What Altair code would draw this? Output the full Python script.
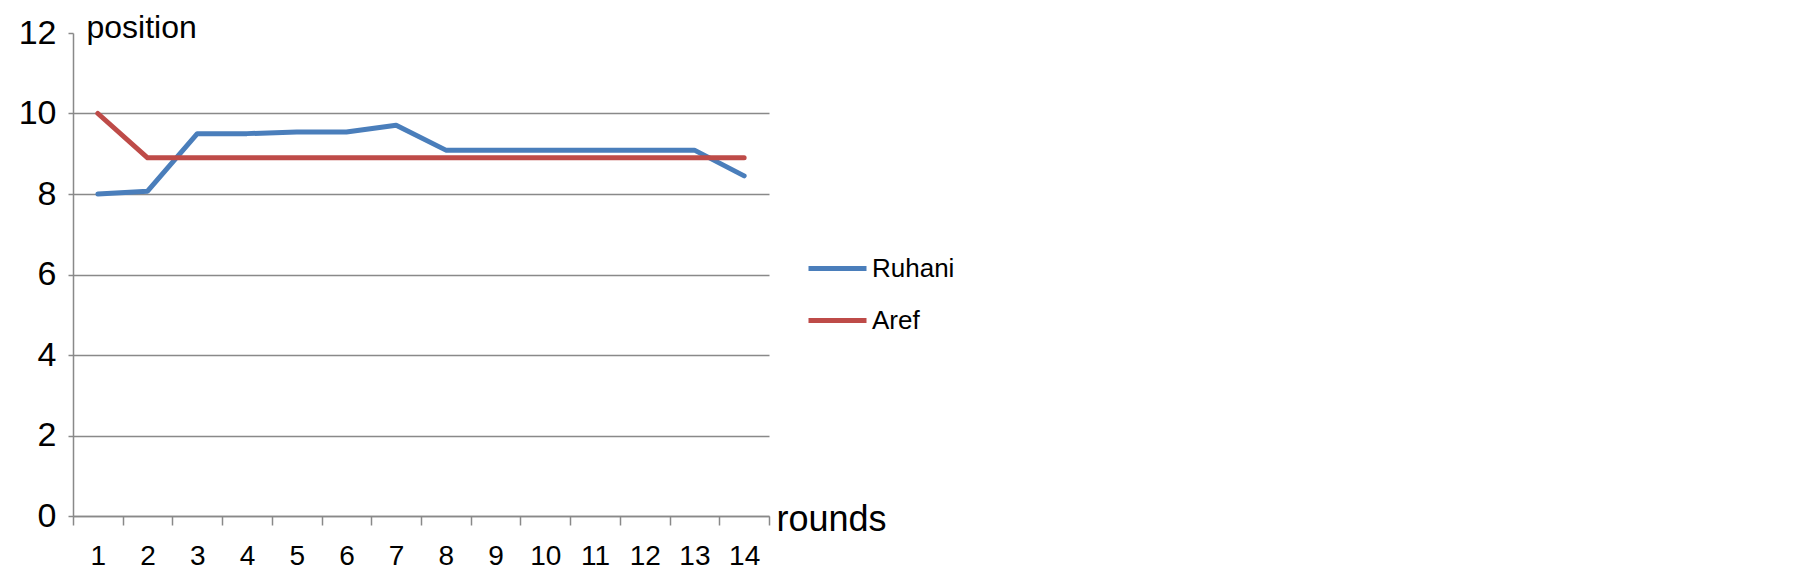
import altair as alt
import pandas as pd

rounds = [str(i) for i in range(1, 15)]
ruhani = [8.0, 8.07, 9.5, 9.5, 9.54, 9.54, 9.71, 9.09, 9.09, 9.09, 9.09, 9.09, 9.09, 8.45]
aref = [10.0, 8.9, 8.9, 8.9, 8.9, 8.9, 8.9, 8.9, 8.9, 8.9, 8.9, 8.9, 8.9, 8.9]
series = ["Ruhani", "Aref"]
colors = ["#4A7EBB", "#BE4B48"]
y_ticks = [0, 2, 4, 6, 8, 10, 12]

rows = []
for name, vals in zip(series, [ruhani, aref]):
    for r, v in zip(rounds, vals):
        rows.append({"round": r, "position": v, "series": name, "order": series.index(name)})
df = pd.DataFrame(rows)

FONT = "Liberation Sans"
GRID = "#898989"

chart = alt.Chart(df).mark_line(strokeWidth=5, strokeCap="round", strokeJoin="round").encode(
    x=alt.X("round:O", sort=rounds,
            scale=alt.Scale(paddingInner=0, paddingOuter=0),
            axis=alt.Axis(title="rounds", labelAngle=0, tickBand="extent", grid=False,
                          domainColor=GRID, domainWidth=1.5, tickColor=GRID, tickWidth=1.5,
                          tickSize=9, labelPadding=17, labelFont=FONT, labelFontSize=28,
                          labelColor="#000000",
                          titleFont=FONT, titleFontSize=36, titleFontWeight="normal",
                          titleColor="#000000", titleAlign="left", titleBaseline="alphabetic",
                          titleAngle=0, titleX=703, titleY=14)),
    y=alt.Y("position:Q",
            scale=alt.Scale(domain=[0, 12], nice=False, zero=True),
            axis=alt.Axis(title="position", values=y_ticks, grid=True, gridColor=GRID,
                          gridOpacity=alt.expr("datum.value >= 12 ? 0 : 1"),
                          gridWidth=1.5, domainColor=GRID, domainWidth=1.5, tickColor=GRID,
                          tickWidth=1.5, tickSize=5, labelPadding=12, labelFont=FONT,
                          labelFontSize=34, labelColor="#000000",
                          titleFont=FONT, titleFontSize=32, titleFontWeight="normal",
                          titleColor="#000000", titleAlign="left", titleBaseline="alphabetic",
                          titleAngle=0, titleX=13, titleY=4)),
    color=alt.Color("series:N", sort=series,
                    scale=alt.Scale(domain=series, range=colors),
                    legend=alt.Legend(title=None, orient="none", legendX=733, legendY=204,
                                      symbolType="stroke", symbolSize=3364,
                                      symbolStrokeWidth=5, labelFont=FONT,
                                      labelFontSize=26, labelColor="#000000",
                                      labelOffset=3, rowPadding=7, labelLimit=300)),
    order=alt.Order("order:Q"),
).properties(
    width=696,
    height=483,
    autosize=alt.AutoSizeParams(type="none"),
    padding={"left": 65, "top": 25, "right": 300, "bottom": 58},
).configure(background="white", view=alt.ViewConfig(stroke=None))

chart.save("out.html", embed_options={"renderer": "svg", "actions": False})
